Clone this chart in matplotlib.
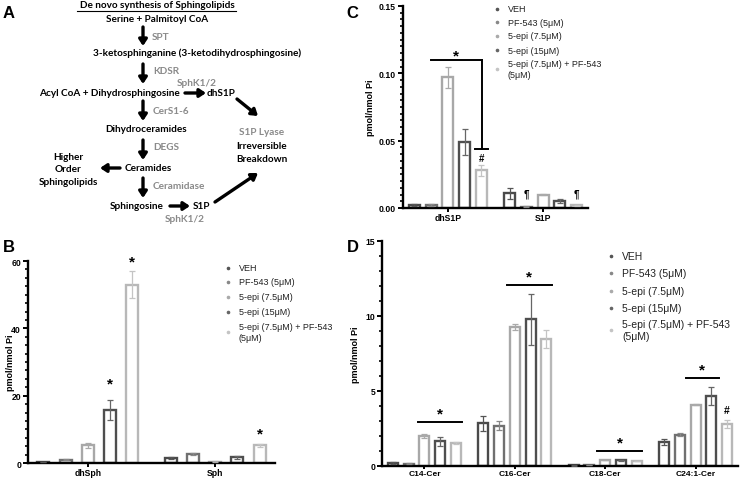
import numpy as np
import matplotlib
matplotlib.use('Agg')
from matplotlib import pyplot as plt
from matplotlib.ticker import MultipleLocator

plt.rcParams['font.family'] = ['Liberation Sans', 'DejaVu Sans']

# treatment groups and their look
groups = ['VEH', 'PF-543 (5μM)', '5-epi (7.5μM)', '5-epi (15μM)',
          '5-epi (7.5μM) + PF-543\n(5μM)']
edge_cols = ['#4a4a4a', '#707070', '#a8a8a8', '#4e4e4e', '#b8b8b8']
dot_cols = ['#555555', '#888888', '#aaaaaa', '#666666', '#c4c4c4']

# panel B
b_cats = ['dhSph', 'Sph']
b_vals = [[0.3, 1.0, 5.2, 15.8, 53.0],
          [1.5, 2.8, 0.4, 1.7, 5.2]]
b_errs = [[0.1, 0.2, 0.6, 3.0, 4.0],
          [0.3, 0.3, 0.15, 0.4, 0.3]]

# panel C
c_cats = ['dhS1P', 'S1P']
c_vals = [[0.002, 0.002, 0.097, 0.049, 0.028],
          [0.011, 0.001, 0.010, 0.005, 0.002]]
c_errs = [[0.0008, 0.0008, 0.008, 0.010, 0.004],
          [0.004, 0.0003, 0.0005, 0.0015, 0.0005]]

# panel D
d_cats = ['C14-Cer', 'C16-Cer', 'C18-Cer', 'C24:1-Cer']
d_vals = [[0.2, 0.15, 2.0, 1.65, 1.55],
          [2.85, 2.7, 9.3, 9.8, 8.5],
          [0.05, 0.08, 0.4, 0.38, 0.33],
          [1.6, 2.1, 4.1, 4.7, 2.8]]
d_errs = [[0.05, 0.03, 0.12, 0.3, 0.05],
          [0.5, 0.3, 0.2, 1.7, 0.6],
          [0.02, 0.02, 0.03, 0.03, 0.02],
          [0.2, 0.12, 0.05, 0.6, 0.28]]

offsets = [-0.35, -0.175, 0.0, 0.175, 0.35]
W, H = 740, 481
fig = plt.figure(figsize=(7.4, 4.81), dpi=100)


def px_axes(l, r, t, b):
    return fig.add_axes([l / W, 1 - b / H, (r - l) / W, (b - t) / H])


def bars(ax, cats, vals, errs, width, ylab_x):
    for i in range(len(cats)):
        for j in range(5):
            x = i + offsets[j]
            ax.bar(x, vals[i][j], width=width, facecolor='white',
                   edgecolor=edge_cols[j], linewidth=1.7, zorder=2)
            ax.errorbar(x, vals[i][j], yerr=errs[i][j], color=dot_cols[j],
                        capsize=2.5, elinewidth=0.9, capthick=0.9, zorder=3)
    ax.set_xticks(range(len(cats)))
    ax.set_xticklabels(cats, fontweight='bold', fontsize=6.5)
    ax.set_xlim(-0.47, len(cats) - 0.53)
    for s in ['top', 'right']:
        ax.spines[s].set_visible(False)
    for s in ['left', 'bottom']:
        ax.spines[s].set_linewidth(1.7)
    ax.tick_params(axis='both', width=1.4, length=3.5, labelsize=6.2, pad=1.5)
    ax.tick_params(axis='x', length=2.8, pad=1)
    ax.tick_params(axis='y', which='minor', width=1.2, length=2.2)
    for lab in ax.get_yticklabels():
        lab.set_fontweight('bold')
    ax.set_ylabel('pmol/nmol Pi', fontsize=6.5, fontweight='bold')
    ax.yaxis.set_label_coords(ylab_x, 0.5)


def legend(x, ys, fs):
    for j, g in enumerate(groups):
        fig.text((x + 11) / W, 1 - ys[j] / H, g, fontsize=fs, color='#222222',
                 va='center', ha='left', linespacing=1.15)
        fig.lines.append(plt.Line2D([x / W], [1 - ys[j] / H], marker='o',
                                    markersize=1.6, color=dot_cols[j],
                                    transform=fig.transFigure))


def star(ax, x, y, fs=11):
    ax.text(x, y, '*', fontsize=fs, fontweight='bold', ha='center',
            va='center', clip_on=False)


# ---- panel B
axb = px_axes(28, 275, 262, 464)
bars(axb, b_cats, b_vals, b_errs, 0.095, -0.053)
axb.set_ylim(0, 60)
axb.set_yticks([0, 20, 40, 60])
axb.yaxis.set_minor_locator(MultipleLocator(2.5))
for x, y in [(0.175, 23.5), (0.35, 60.0), (1.35, 8.8)]:
    star(axb, x, y)
legend(228, [269, 283, 298, 313, 333], 6.5)

# ---- panel C
axc = px_axes(403, 588, 7, 209)
bars(axc, c_cats, c_vals, c_errs, 0.115, -0.151)
axc.set_ylim(0, 0.15)
axc.set_yticks([0, 0.05, 0.10, 0.15])
axc.set_yticklabels(['0.00', '0.05', '0.10', '0.15'], fontweight='bold')
axc.yaxis.set_minor_locator(MultipleLocator(0.005))
axc.plot([-0.18, 0.36], [0.110, 0.110], color='black', lw=1.4)
axc.plot([0.36, 0.36], [0.110, 0.044], color='black', lw=1.4)
axc.plot([0.29, 0.42], [0.044, 0.044], color='black', lw=1.4)
star(axc, 0.09, 0.1135)
axc.text(0.35, 0.037, '#', fontsize=7, fontweight='bold', ha='center', va='center')
for x in [0.825, 1.35]:
    axc.text(x, 0.011, '¶', fontsize=7, fontweight='bold', ha='center', va='center')
legend(497, [10, 23, 37, 51, 70], 6.5)

# ---- panel D
axd = px_axes(382, 738, 242, 467)
bars(axd, d_cats, d_vals, d_errs, 0.11, -0.062)
axd.set_ylim(0, 15)
axd.set_yticks([0, 5, 10, 15])
axd.yaxis.set_minor_locator(MultipleLocator(1))
axd.tick_params(axis='x', labelsize=6.0, pad=0.5, length=2.5)
sig_lines = [(0, -0.07, 0.42, 2.93), (1, -0.09, 0.41, 12.07),
             (2, -0.09, 0.41, 1.0), (3, -0.11, 0.26, 5.87)]
for i, a, b, y in sig_lines:
    axd.plot([i + a, i + b], [y, y], color='black', lw=1.4)
    star(axd, i + (a + b) / 2, y + 0.55)
axd.text(3.35, 3.7, '#', fontsize=7.5, fontweight='bold', ha='center', va='center')
legend(611, [257, 274, 292, 309, 331], 7.5)

# ---- panel A (pathway diagram), drawn in pixel coordinates
ax0 = fig.add_axes([0, 0, 1, 1], zorder=-1)
ax0.set_xlim(0, W)
ax0.set_ylim(H, 0)
ax0.axis('off')
dk = dict(fontsize=7.2, fontweight='bold', family='Lato', color='black',
          va='center')
gr = dict(dk, color='#8a8a8a')
ax0.text(157, 6, 'De novo synthesis of Sphingolipids', ha='center', **dk)
ax0.plot([77, 236], [11.5, 11.5], color='black', lw=0.8)
ax0.text(157, 20, 'Serine + Palmitoyl CoA', ha='center', **dk)
ax0.text(197, 53, '3-ketosphinganine (3-ketodihydrosphingosine)', ha='center', **dk)
ax0.text(180, 93, 'Acyl CoA + Dihydrosphingosine', ha='right', **dk)
ax0.text(207, 93, 'dhS1P', ha='left', **dk)
ax0.text(146, 130, 'Dihydroceramides', ha='center', **dk)
ax0.text(148, 169, 'Ceramides', ha='center', **dk)
ax0.text(137, 207, 'Sphingosine', ha='center', **dk)
ax0.text(193, 207, 'S1P', ha='left', **dk)
ax0.text(68, 170, 'Higher\nOrder\nSphingolipids', ha='center', linespacing=1.45, **dk)
ax0.text(262, 153, 'Irreversible\nBreakdown', ha='center', linespacing=1.45, **dk)
ax0.text(262, 133, 'S1P Lyase', ha='center', **gr)
ax0.text(152, 37, 'SPT', ha='left', **gr)
ax0.text(153, 72, 'KDSR', ha='left', **gr)
ax0.text(177, 84, 'SphK1/2', ha='left', **gr)
ax0.text(153, 111, 'CerS1-6', ha='left', **gr)
ax0.text(153, 148, 'DEGS', ha='left', **gr)
ax0.text(153, 187, 'Ceramidase', ha='left', **gr)
ax0.text(185, 220, 'SphK1/2', ha='center', **gr)
arr = dict(arrowstyle='-|>,head_length=0.45,head_width=0.3', lw=2.4,
           color='black', shrinkA=0, shrinkB=0, mutation_scale=8)
for (x0, y0, x1, y1) in [(143, 28, 143, 47), (143, 65, 143, 85),
                         (143, 102, 143, 122), (143, 141, 143, 161),
                         (143, 179, 143, 199), (185, 94, 206, 94),
                         (170, 207, 190, 207), (120, 169, 100, 169),
                         (237, 100, 258, 117), (215, 203, 258, 174)]:
    ax0.annotate('', xy=(x1, y1), xytext=(x0, y0), arrowprops=arr)

# panel letters
for ch, x, y in [('A', 9, 13), ('B', 9, 248), ('C', 352, 13), ('D', 353, 248)]:
    fig.text(x / W, 1 - y / H, ch, fontsize=12, fontweight='bold',
             ha='center', va='center')

fig.savefig('out.png', dpi=100)
